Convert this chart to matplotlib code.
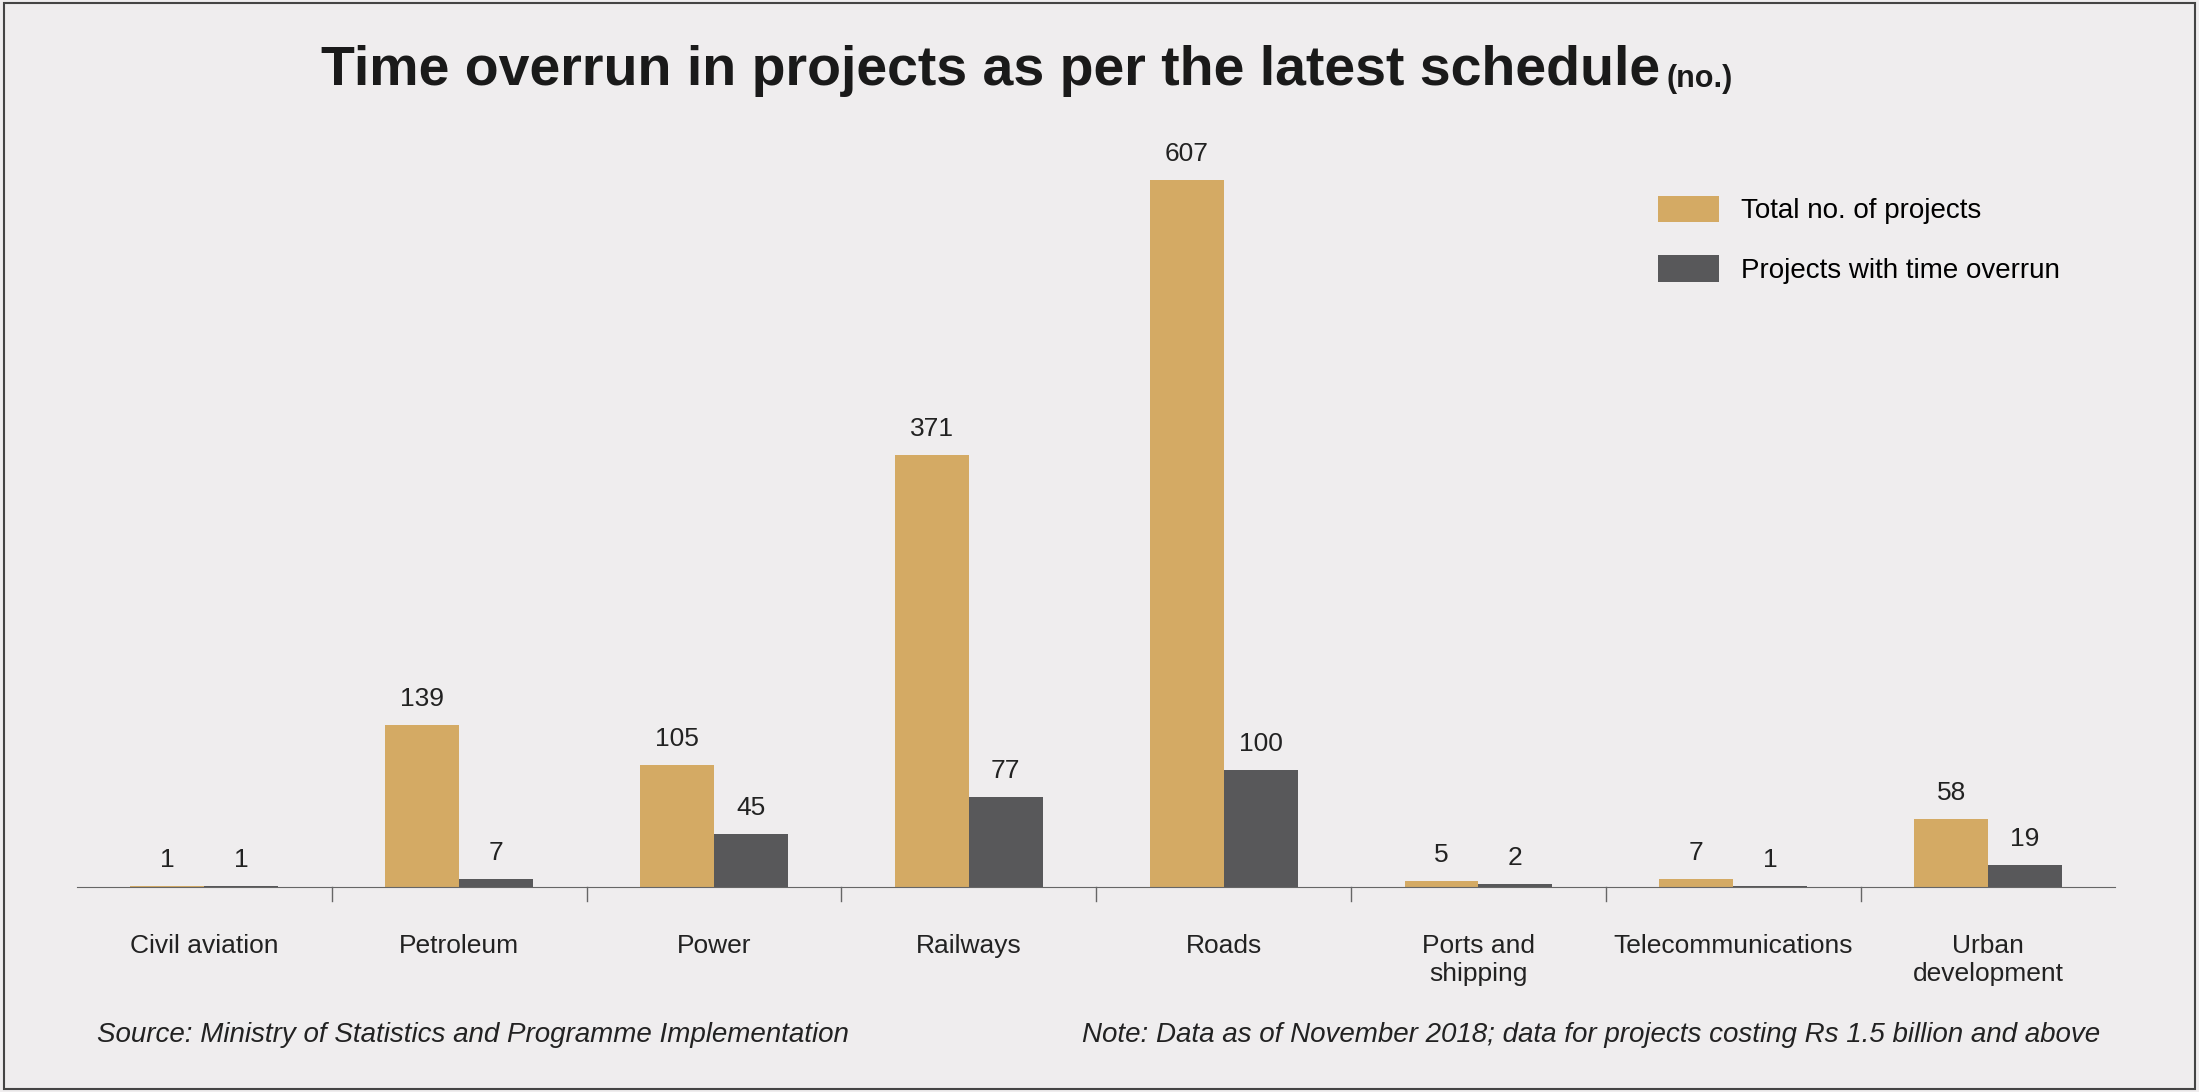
import matplotlib.pyplot as plt
import numpy as np
from matplotlib.patches import Rectangle

categories = ['Civil aviation', 'Petroleum', 'Power', 'Railways', 'Roads',
              'Ports and\nshipping', 'Telecommunications', 'Urban\ndevelopment']
total = [1, 139, 105, 371, 607, 5, 7, 58]
overrun = [1, 7, 45, 77, 100, 2, 1, 19]

bg = '#efedee'
gold = '#d4aa64'
dark = '#58585a'
plt.rcParams['font.family'] = ['Liberation Sans Narrow', 'Liberation Sans', 'DejaVu Sans']

fig = plt.figure(figsize=(21.99, 10.92), dpi=100, facecolor=bg)
ax = fig.add_axes([0.035, 0.188, 0.927, 0.683], facecolor=bg)

x = np.arange(len(categories))
w = 0.29
b1 = ax.bar(x - w / 2, total, w, color=gold, label='Total no. of projects')
b2 = ax.bar(x + w / 2, overrun, w, color=dark, label='Projects with time overrun')
for bars in (b1, b2):
    for r in bars:
        ax.text(r.get_x() + r.get_width() / 2, r.get_height() + 12, str(int(r.get_height())),
                ha='center', va='bottom', fontsize=19, color='#222222')

ax.set_xlim(-0.5, len(categories) - 0.5)
ax.set_ylim(0, 641)
ax.set_yticks([])
for s in ['top', 'right', 'left']:
    ax.spines[s].set_visible(False)
ax.spines['bottom'].set_color('#666666')
ax.set_xticks(x)
ax.set_xticklabels(categories, fontsize=19, color='#222222', va='top')
ax.tick_params(axis='x', length=0, pad=34)
for b in x[:-1] + 0.5:
    ax.plot([b, b], [0, -12], color='#666666', lw=1, clip_on=False)

leg = ax.legend(loc='upper right', bbox_to_anchor=(0.985, 0.96), frameon=False, fontsize=20,
                handlelength=2.2, handleheight=1.1, labelspacing=1.1)

fig.text(0.755, 0.935, 'Time overrun in projects as per the latest schedule', ha='right',
         va='center', fontsize=40, fontweight='bold', color='#1a1a1a')
fig.text(0.758, 0.928, '(no.)', ha='left', va='center', fontsize=22, fontweight='bold', color='#1a1a1a')

fig.text(0.044, 0.052, 'Source: Ministry of Statistics and Programme Implementation',
         fontsize=20, style='italic', color='#222222', va='center')
fig.text(0.955, 0.052, 'Note: Data as of November 2018; data for projects costing Rs 1.5 billion and above',
         fontsize=20, style='italic', color='#222222', va='center', ha='right')

fig.patches.append(Rectangle((0.002, 0.003), 0.996, 0.994, transform=fig.transFigure,
                             fill=False, edgecolor='#444444', lw=1.5))
fig.savefig('out.png', dpi=100, facecolor=bg)
